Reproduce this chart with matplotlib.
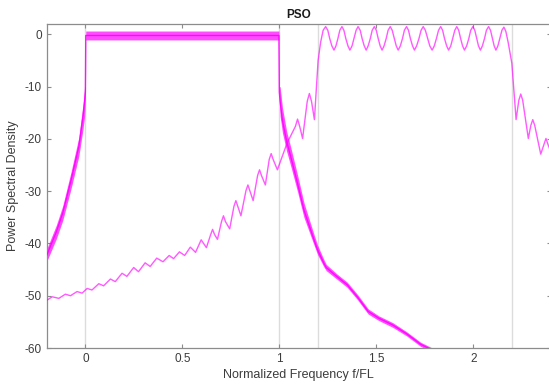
import matplotlib
matplotlib.use("Agg")
import matplotlib.pyplot as plt

plt.rcParams["font.family"] = ["Liberation Sans", "DejaVu Sans"]
plt.rcParams["axes.unicode_minus"] = False

# curve A: dense-ripple band (centre, ripple half-width)
a_x = [-0.2, -0.15, -0.117, -0.074, -0.034, -0.012, -0.004, 0.0, 0.002,
       0.998, 1.0, 1.004, 1.016, 1.038, 1.059, 1.094, 1.127, 1.179, 1.197,
       1.23, 1.242, 1.296, 1.35, 1.404, 1.458, 1.513, 1.585, 1.657, 1.729, 1.80]
a_mid = [-42.3, -37.8, -34.2, -27.9, -21.5, -15.6, -12.8, -11.0, -0.2,
         -0.2, -11.0, -12.8, -16.4, -20.5, -23.4, -28.5, -33.6, -39.3, -41.2,
         -43.8, -44.6, -46.3, -47.9, -50.3, -53.0, -54.3, -55.6, -57.3, -59.3, -60.6]
a_half = [1.2, 1.3, 1.4, 1.6, 1.8, 2.4, 2.8, 1.0, 0.85,
          0.85, 1.0, 2.8, 2.4, 1.9, 1.8, 1.6, 1.4, 1.0, 0.9,
          0.7, 0.6, 0.5, 0.5, 0.5, 0.5, 0.45, 0.45, 0.4, 0.4, 0.4]

# curve B, left stopband and transition (peaks / troughs)
b_left_x = [-0.2, -0.171, -0.137, -0.103, -0.077, -0.043, -0.017, 0.009, 0.034,
            0.069, 0.094, 0.129, 0.154, 0.189, 0.214, 0.249, 0.274, 0.308, 0.334,
            0.368, 0.400, 0.432, 0.455, 0.485, 0.512, 0.541, 0.568, 0.597, 0.624,
            0.646, 0.656, 0.666, 0.681, 0.702, 0.712, 0.722, 0.744, 0.766, 0.776,
            0.786, 0.802, 0.828, 0.838, 0.848, 0.865, 0.888, 0.898, 0.908, 0.928,
            0.948, 0.958, 0.968, 0.990, 1.040, 1.083, 1.094, 1.105, 1.120, 1.144,
            1.155, 1.166, 1.181]
b_left_y = [-50.9, -50.2, -50.5, -49.7, -50.0, -49.2, -49.5, -48.6, -48.9,
            -47.7, -48.1, -46.8, -47.3, -45.7, -46.3, -44.6, -45.4, -43.7, -44.4,
            -42.8, -43.5, -42.3, -42.9, -41.6, -42.3, -40.7, -41.7, -39.3, -40.8,
            -38.3, -37.3, -38.3, -39.2, -35.8, -34.7, -35.8, -37.2, -32.9, -31.8,
            -32.9, -34.7, -29.9, -28.8, -29.9, -31.8, -27.0, -25.9, -27.0, -28.8,
            -23.9, -22.8, -23.9, -25.9, -20.8, -17.6, -16.2, -17.6, -19.9, -12.8,
            -11.3, -12.8, -16.3]

# curve B, passband ripple
b_pass_x = [1.200, 1.213, 1.226, 1.239,
            1.250, 1.260, 1.271, 1.282, 1.292, 1.302, 1.312, 1.323,
            1.333, 1.343, 1.354, 1.364, 1.375, 1.385, 1.396, 1.406,
            1.417, 1.427, 1.438, 1.448, 1.458, 1.469, 1.479, 1.490,
            1.500, 1.510, 1.520, 1.530, 1.540, 1.551, 1.561, 1.572,
            1.582, 1.593, 1.603, 1.613, 1.624, 1.635, 1.645, 1.656,
            1.666, 1.676, 1.687, 1.697, 1.708, 1.720, 1.731, 1.742,
            1.753, 1.765, 1.776, 1.788, 1.799, 1.810, 1.821, 1.832,
            1.842, 1.852, 1.863, 1.873, 1.884, 1.894, 1.905, 1.915,
            1.925, 1.935, 1.945, 1.955, 1.966, 1.977, 1.987, 1.998,
            2.008, 2.018, 2.027, 2.037, 2.047, 2.058, 2.068, 2.079,
            2.089, 2.099, 2.108, 2.117, 2.127, 2.137, 2.148, 2.158,
            2.168, 2.180]
b_pass_y = [-5.0, -1.5, 0.8, 1.5,
            0.8, -0.8, -2.2, -3.0, -2.2, -0.8, 0.8, 1.5,
            0.8, -0.8, -2.2, -3.0, -2.2, -0.8, 0.8, 1.5,
            0.8, -0.8, -2.2, -3.0, -2.2, -0.8, 0.8, 1.5,
            0.8, -0.8, -2.2, -3.0, -2.2, -0.8, 0.8, 1.5,
            0.8, -0.8, -2.2, -3.0, -2.2, -0.8, 0.8, 1.5,
            0.8, -0.8, -2.2, -3.0, -2.2, -0.8, 0.8, 1.5,
            0.8, -0.8, -2.2, -3.0, -2.2, -0.8, 0.8, 1.5,
            0.8, -0.8, -2.2, -3.0, -2.2, -0.8, 0.8, 1.5,
            0.8, -0.8, -2.2, -3.0, -2.2, -0.8, 0.8, 1.5,
            0.8, -0.8, -2.2, -3.0, -2.2, -0.8, 0.8, 1.5,
            0.8, -0.8, -2.2, -3.0, -2.2, -0.8, 0.8, 1.4,
            0.6, -1.5]

# curve B, right transition
b_right_x = [2.199, 2.221, 2.235, 2.245, 2.255, 2.284, 2.297, 2.307, 2.317,
             2.348, 2.365, 2.375, 2.385, 2.40]
b_right_y = [-5.5, -16.3, -12.6, -11.4, -12.6, -19.9, -17.4, -16.3, -17.4,
             -22.9, -21.0, -19.9, -21.0, -22.5]

band_edges = [0, 1, 1.2, 2.2]
x_ticks = [0, 0.5, 1, 1.5, 2]
x_tick_labels = ["0", "0.5", "1", "1.5", "2"]
y_ticks = [0, -10, -20, -30, -40, -50, -60]

MAGENTA = "#ff00ff"
AXCOL = "#8c8c8c"
TXT = "#3c3c3c"

fig = plt.figure(figsize=(5.49, 3.85), dpi=100)
ax = fig.add_axes([0.0849, 0.0961, 0.9184, 0.8416])

for xe in band_edges:
    ax.axvline(xe, color="#dcdcdc", lw=1.0, zorder=1)

a_lo = [m - h for m, h in zip(a_mid, a_half)]
a_hi = [m + h for m, h in zip(a_mid, a_half)]
ax.fill_between(a_x, a_lo, a_hi, color=MAGENTA, alpha=0.7, lw=0, zorder=2)
ax.plot(a_x, a_mid, color=MAGENTA, lw=1.0, alpha=0.9, zorder=3)

b_x = b_left_x + b_pass_x + b_right_x
b_y = b_left_y + b_pass_y + b_right_y
ax.plot(b_x, b_y, color=MAGENTA, lw=1.0, alpha=0.65, zorder=3)

ax.set_xlim(-0.2, 2.4)
ax.set_ylim(-60, 2)
ax.set_xticks(x_ticks)
ax.set_xticklabels(x_tick_labels)
ax.set_yticks(y_ticks)

ax.tick_params(direction="in", length=3, width=0.8, colors=AXCOL,
               labelcolor=TXT, labelsize=8.5, top=True, right=True)
for sp in ax.spines.values():
    sp.set_color(AXCOL)
    sp.set_linewidth(0.9)

ax.set_title("PSO", fontsize=8.5, fontweight="bold", color="#1a1a1a", pad=4)
ax.set_xlabel("Normalized Frequency f/FL", fontsize=9, color=TXT, labelpad=3)
ax.set_ylabel("Power Spectral Density", fontsize=9, color=TXT, labelpad=4)

fig.savefig("out.png", dpi=100)
